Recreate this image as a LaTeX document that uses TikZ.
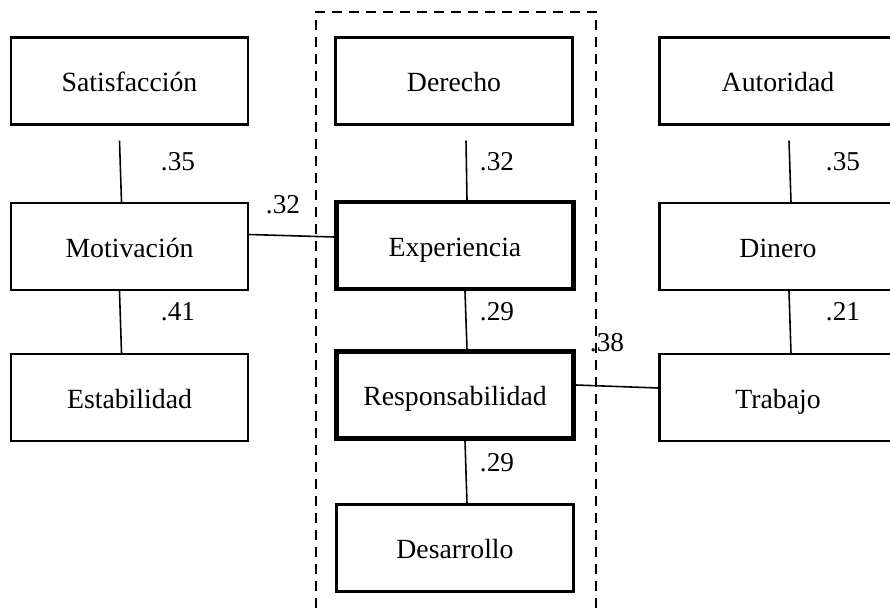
\documentclass[tikz,border=0pt]{standalone}
\usepackage{fontspec}
\setmainfont{Liberation Serif}
\usepackage{tikz}
\usetikzlibrary{calc}
\tikzset{caja/.style={draw, line width=1.2pt, minimum width=4.74cm, minimum height=1.74cm,
    inner sep=0pt, text height=14pt, text depth=2pt, font=\fontsize{15.8}{18}\selectfont},
  cajagruesa/.style={caja, line width=2.5pt},
  peso/.style={inner sep=0pt, font=\fontsize{15.5}{18}\selectfont},
  enlace/.style={line width=0.9pt}}

\begin{document}
\begin{tikzpicture}[x=0.02cm, y=-0.02cm]
    \useasboundingbox (0,0) rectangle (890,608);
    \draw[line width=1.1pt, dash pattern=on 0.2cm off 0.14cm] (316,625)--(316,12)--(596,12)--(596,625);

    \node[caja] at (129.5, 81)    (sat) {Satisfacción};
    \node[caja] at (129.5, 246.5) (mot) {Motivación};
    \node[caja] at (129.5, 397.5) (est) {Estabilidad};
    \node[caja] at (454, 81)      (der) {Derecho};
    \node[cajagruesa] at (455, 245.5) (exp) {Experiencia};
    \node[cajagruesa] at (455, 395)   (res) {Responsabilidad};
    \node[caja] at (455, 548)     (des) {Desarrollo};
    \node[caja] at (778, 81)      (aut) {Autoridad};
    \node[caja] at (778, 246.5)   (din) {Dinero};
    \node[caja] at (778, 397.5)   (tra) {Trabajo};

    \draw[enlace] ($(sat.south)+(-10,15)$)--($(mot.north)+(-8,0)$);
    \draw[enlace] ($(mot.south)+(-10,0)$)--($(est.north)+(-8,0)$);
    \draw[enlace] ($(der.south)+(12,15)$)--($(exp.north)+(12,0)$);
    \draw[enlace] ($(exp.south)+(10,0)$)--($(res.north)+(12,0)$);
    \draw[enlace] ($(res.south)+(10,0)$)--($(des.north)+(12,0)$);
    \draw[enlace] ($(aut.south)+(11,15)$)--($(din.north)+(13,0)$);
    \draw[enlace] ($(din.south)+(11,0)$)--($(tra.north)+(13,0)$);
    \draw[enlace] ($(mot.east)+(0,-12)$)--($(exp.west)+(0,-8.5)$);
    \draw[enlace] ($(res.east)+(0,-10)$)--($(tra.west)+(0,-9.5)$);

    \node[peso] at (178, 162) (p1) {.35};
    \node[peso] at (178, 312) (p2) {.41};
    \node[peso] at (283, 205) (p3) {.32};
    \node[peso] at (497, 162) (p4) {.32};
    \node[peso] at (497, 312) (p5) {.29};
    \node[peso] at (497, 463) (p6) {.29};
    \node[peso] at (607, 343) (p7) {.38};
    \node[peso] at (843, 162) (p8) {.35};
    \node[peso] at (843, 312) (p9) {.21};
\end{tikzpicture}
\end{document}
